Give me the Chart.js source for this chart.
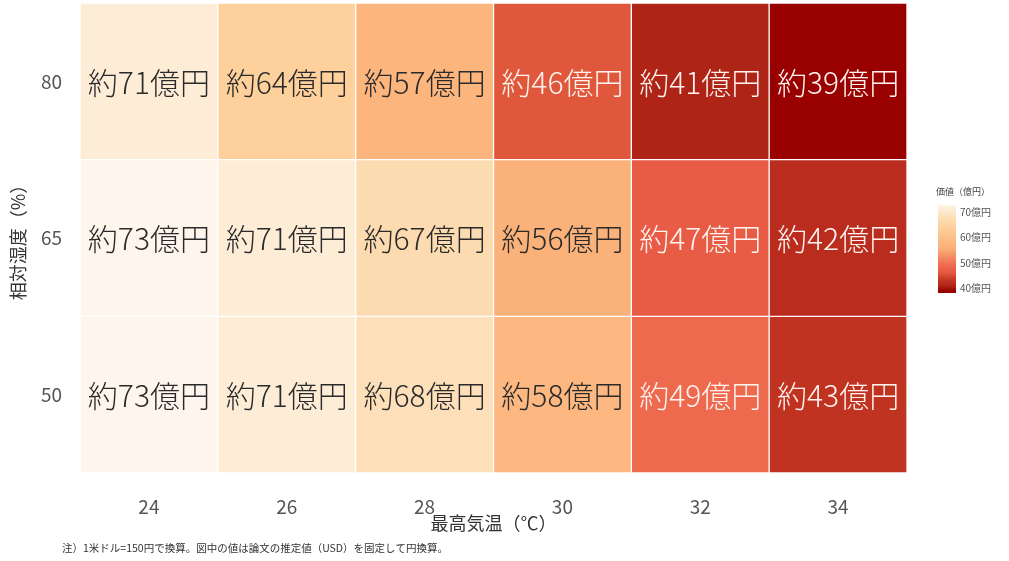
<!DOCTYPE html>
<html><head><meta charset="utf-8">
<script src="https://cdn.jsdelivr.net/npm/chart.js@4.4.1/dist/chart.umd.min.js"></script>
<style>html,body{margin:0;padding:0;background:#fff}#wrap{width:1009px;height:561px;position:relative}</style>
</head><body><div id="wrap"><canvas id="c" width="1009" height="561"></canvas></div>
<script>
const temps = ['24','26','28','30','32','34'];
const humidity = ['50','65','80'];
const values50 = [73,71,68,58,49,43];
const values65 = [73,71,67,56,47,42];
const values80 = [71,64,57,46,41,39];
const legendTicks = [70,60,50,40];
const FONT = '"Noto Sans CJK JP","Noto Sans",sans-serif';

// colour scale stops (value -> colour)
const stops = [[39,[153,0,0]],[41,[174,36,22]],[42,[185,44,30]],[43,[192,51,32]],[46,[224,88,60]],[47,[232,92,70]],[49,[238,106,78]],[56,[251,178,122]],[58,[252,184,128]],[64,[253,208,156]],[67,[253,219,176]],[71,[253,236,214]],[73,[254,246,236]]];
function colorFor(v){
  if(v<=stops[0][0]) return 'rgb('+stops[0][1].join(',')+')';
  for(let i=1;i<stops.length;i++){
    if(v<=stops[i][0]){
      const [a,ca]=stops[i-1],[b,cb]=stops[i];const t=(v-a)/(b-a);
      return 'rgb('+ca.map((x,k)=>Math.round(x+(cb[k]-x)*t)).join(',')+')';
    }
  }
  return 'rgb('+stops[stops.length-1][1].join(',')+')';
}
const rows=[values50,values65,values80];
const datasets=rows.map((vals,i)=>({
  label:humidity[i],
  data:vals.map(()=>1),
  vals:vals,
  backgroundColor:vals.map(colorFor),
  borderColor:'#fff',borderWidth:1,borderSkipped:false,
  barPercentage:1,categoryPercentage:1
}));

const cellLabels={id:'cellLabels',afterDatasetsDraw(chart){
  const ctx=chart.ctx;ctx.save();
  ctx.font='300 30px '+FONT;ctx.textAlign='center';ctx.textBaseline='middle';
  chart.data.datasets.forEach((ds,di)=>{
    chart.getDatasetMeta(di).data.forEach((bar,j)=>{
      const v=ds.vals[j];const p=bar.getCenterPoint();
      ctx.fillStyle=v<50?'#fff3ef':'#2a2a2a';
      ctx.fillText('約'+v+'億円',p.x,p.y+1);
    });
  });
  ctx.restore();
}};
const extras={id:'extras',afterDraw(chart){
  const ctx=chart.ctx;ctx.save();
  // legend
  const top=205,bot=293,x0=938,w=18,vTop=72.8,vBot=38.2;
  const yOf=v=>top+(vTop-v)/(vTop-vBot)*(bot-top);
  for(let y=top;y<bot;y++){const v=vTop-(y-top+0.5)/(bot-top)*(vTop-vBot);ctx.fillStyle=colorFor(v);ctx.fillRect(x0,y,w,1);}
  ctx.fillStyle='#444';ctx.font='9px '+FONT;ctx.textAlign='left';ctx.textBaseline='middle';
  ctx.fillText('価値（億円）',936,192);
  ctx.font='10px '+FONT;ctx.fillStyle='#555';
  legendTicks.forEach(t=>ctx.fillText(t+'億円',960,yOf(t)));
  // footnote
  ctx.font='10.5px '+FONT;ctx.fillStyle='#333';
  ctx.fillText('注）1米ドル=150円で換算。図中の値は論文の推定値（USD）を固定して円換算。',62,548);
  ctx.restore();
}};

new Chart(document.getElementById('c'),{
  type:'bar',
  data:{labels:temps,datasets:datasets},
  options:{
    responsive:false,animation:false,
    layout:{padding:{left:0,top:3,right:102,bottom:26}},
    plugins:{legend:{display:false},tooltip:{enabled:false}},
    scales:{
      x:{stacked:true,grid:{display:false,drawTicks:false},border:{display:false},
        ticks:{color:'#555',font:{size:19,family:FONT},padding:22},
        title:{display:true,text:'最高気温（℃）',color:'#333',font:{size:18,family:FONT},padding:{top:0,bottom:1}},
        afterFit(s){s.height=62;s.paddingTop=0;s.paddingBottom=0;s.paddingLeft=0;s.paddingRight=0;}},
      y:{stacked:true,min:0,max:3,grid:{display:false,drawTicks:false},border:{display:false},
        afterBuildTicks(s){s.ticks=humidity.map((h,i)=>({value:i+0.5}));},
        ticks:{color:'#555',font:{size:19,family:FONT},padding:18,callback:(v)=>humidity[Math.floor(v)]},
        title:{display:true,text:'相対湿度（%）',color:'#333',font:{size:18,family:FONT},padding:{top:7,bottom:0}},
        afterFit(s){s.width=80;s.paddingTop=0;s.paddingBottom=0;s.paddingLeft=0;s.paddingRight=0;}}
    }
  },
  plugins:[cellLabels,extras]
});
</script></body></html>
